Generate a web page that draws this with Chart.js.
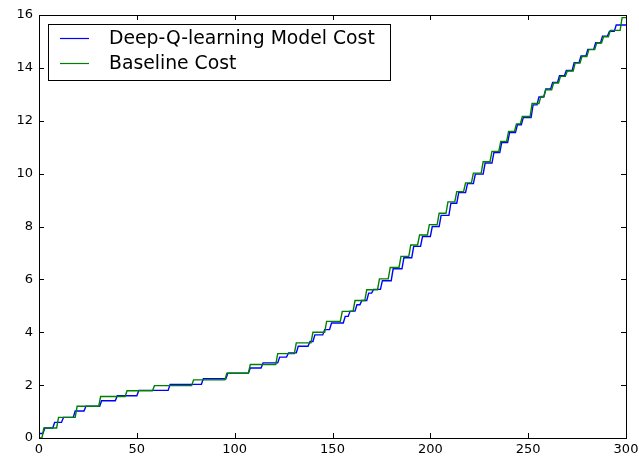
<!DOCTYPE html>
<html>
<head>
<meta charset="utf-8">
<script src="https://cdn.jsdelivr.net/npm/chart.js@4/dist/chart.umd.min.js"></script>
<style>
  html, body { margin: 0; padding: 0; background: #ffffff; }
  #wrap { width: 639px; height: 460px; }
</style>
</head>
<body>
<div id="wrap"><canvas id="c" width="639" height="460"></canvas></div>
<script>
// Cumulative cost curves: each pair is (step start, value held from there on)
const seriesNames = ['Deep-Q-learning Model Cost', 'Baseline Cost'];

const modelStepX = [0, 3, 8, 12.5, 18.5, 24, 32, 40, 51, 67, 84, 96.5, 108, 114.5, 123, 127.5, 132.5, 138.5, 141, 146,
  149.5, 156.5, 159, 162.5, 165, 168.5, 171, 175.5, 181, 186.5, 191.5, 196, 201, 205.5, 210.5, 214.5, 219, 223,
  228, 232.5, 236.5, 240.5, 244.5, 247.5, 252.5, 255.5, 259, 262.5, 266, 269.5, 273.5, 277, 280.5, 284.5, 288,
  291.5, 295, 300];
const modelCost = [0.17, 0.38, 0.59, 0.78, 1.02, 1.2, 1.41, 1.6, 1.8, 2.03, 2.24, 2.45, 2.65, 2.84, 3.06, 3.22, 3.47, 3.65, 3.9, 4.1,
  4.35, 4.6, 4.8, 5.04, 5.2, 5.48, 5.62, 5.95, 6.4, 6.82, 7.25, 7.62, 8.0, 8.42, 8.88, 9.28, 9.62, 9.98,
  10.4, 10.8, 11.18, 11.55, 11.85, 12.12, 12.6, 12.9, 13.2, 13.45, 13.7, 13.9, 14.2, 14.45, 14.7, 14.95, 15.2,
  15.38, 15.62, 15.62];

const baselineStepX = [0, 2.5, 10, 19.5, 31.5, 45, 59, 79, 96, 108, 122, 131.5, 140, 147, 155, 161.5, 167.5, 174,
  179.5, 185, 190, 194.5, 199.5, 204.5, 209, 213.5, 218, 222, 227, 231.5, 236, 240, 244, 247, 252, 256.5, 259,
  263, 266.5, 270, 274, 277.5, 281, 285, 288.5, 292, 298, 300];
const baselineCost = [0, 0.38, 0.78, 1.2, 1.57, 1.79, 1.98, 2.2, 2.45, 2.78, 3.19, 3.6, 4.0, 4.41, 4.79, 5.2, 5.61, 6.02,
  6.45, 6.87, 7.3, 7.68, 8.07, 8.5, 8.93, 9.32, 9.65, 10.02, 10.45, 10.84, 11.22, 11.6, 11.88, 12.16, 12.65, 12.92, 13.17,
  13.43, 13.68, 13.88, 14.18, 14.43, 14.69, 14.94, 15.18, 15.42, 15.9, 15.9];

const xTicks = [0, 50, 100, 150, 200, 250, 300];
const yTicks = [0, 2, 4, 6, 8, 10, 12, 14, 16];

const seriesColors = ['#0000ff', '#008000'];

// Each value is held flat until just before the next step, then rises over one sample
function toStairs(xs, ys) {
  const pts = [];
  for (let i = 0; i < xs.length; i++) {
    pts.push({ x: xs[i], y: ys[i] });
    if (i + 1 < xs.length) {
      const end = Math.max(xs[i], xs[i + 1] - 1);
      if (end > xs[i]) pts.push({ x: end, y: ys[i] });
    }
  }
  return pts;
}

const FONT = '"DejaVu Sans", sans-serif';

// Frame with inward tick marks on all four sides
const framePlugin = {
  id: 'frame',
  afterDraw(chart) {
    const { ctx, chartArea: a, scales } = chart;
    ctx.save();
    ctx.strokeStyle = '#000000';
    ctx.lineWidth = 1;
    const L = 5;
    ctx.beginPath();
    xTicks.forEach(v => {
      const px = Math.round(scales.x.getPixelForValue(v)) + 0.5;
      ctx.moveTo(px, a.bottom); ctx.lineTo(px, a.bottom - L);
      ctx.moveTo(px, a.top); ctx.lineTo(px, a.top + L);
    });
    yTicks.forEach(v => {
      const py = Math.round(scales.y.getPixelForValue(v)) + 0.5;
      ctx.moveTo(a.left, py); ctx.lineTo(a.left + L, py);
      ctx.moveTo(a.right, py); ctx.lineTo(a.right - L, py);
    });
    ctx.stroke();
    ctx.strokeRect(Math.round(a.left) + 0.5, Math.round(a.top) + 0.5,
      Math.round(a.right - a.left), Math.round(a.bottom - a.top));
    ctx.restore();
  }
};

// Boxed legend in the upper-left corner of the plot
const legendPlugin = {
  id: 'boxLegend',
  afterDatasetsDraw(chart) {
    const { ctx, chartArea: a } = chart;
    const x0 = a.left + 9, y0 = a.top + 9, w = 342, h = 56;
    ctx.save();
    ctx.fillStyle = '#ffffff';
    ctx.fillRect(x0, y0, w, h);
    ctx.strokeStyle = '#000000';
    ctx.lineWidth = 1;
    ctx.strokeRect(Math.round(x0) + 0.5, Math.round(y0) + 0.5, w, h);
    ctx.font = '18.8px ' + FONT;
    ctx.textBaseline = 'middle';
    ctx.fillStyle = '#000000';
    chart.data.datasets.forEach((ds, i) => {
      const y = y0 + 14.5 + i * 25;
      ctx.strokeStyle = ds.borderColor;
      ctx.lineWidth = 1.2;
      ctx.beginPath();
      ctx.moveTo(x0 + 12, y);
      ctx.lineTo(x0 + 41, y);
      ctx.stroke();
      ctx.fillText(ds.label, x0 + 61, y + 1);
    });
    ctx.restore();
  }
};

new Chart(document.getElementById('c'), {
  type: 'line',
  data: {
    datasets: [
      {
        label: seriesNames[0],
        data: toStairs(modelStepX, modelCost),
        borderColor: seriesColors[0],
        borderWidth: 1.4,
        pointRadius: 0,
        fill: false,
        order: 1
      },
      {
        label: seriesNames[1],
        data: toStairs(baselineStepX, baselineCost),
        borderColor: seriesColors[1],
        borderWidth: 1.4,
        pointRadius: 0,
        fill: false,
        order: 0
      }
    ]
  },
  options: {
    responsive: false,
    animation: false,
    layout: { padding: { top: 15, right: 13, left: 0, bottom: 0 } },
    plugins: { legend: { display: false }, tooltip: { enabled: false } },
    scales: {
      x: {
        type: 'linear',
        min: 0, max: 300,
        afterBuildTicks(scale) { scale.ticks = xTicks.map(v => ({ value: v })); },
        afterFit(scale) { scale.height = 22; scale.paddingLeft = 0; scale.paddingRight = 0; },
        grid: { display: false, drawTicks: false },
        border: { display: false },
        ticks: { color: '#000000', font: { family: FONT, size: 13 }, padding: 4, maxRotation: 0 }
      },
      y: {
        min: 0, max: 16,
        afterBuildTicks(scale) { scale.ticks = yTicks.map(v => ({ value: v })); },
        afterFit(scale) { scale.width = 39; scale.paddingTop = 0; scale.paddingBottom = 0; },
        grid: { display: false, drawTicks: false },
        border: { display: false },
        ticks: { color: '#000000', font: { family: FONT, size: 13 }, padding: 6 }
      }
    }
  },
  plugins: [framePlugin, legendPlugin]
});
</script>
</body>
</html>
